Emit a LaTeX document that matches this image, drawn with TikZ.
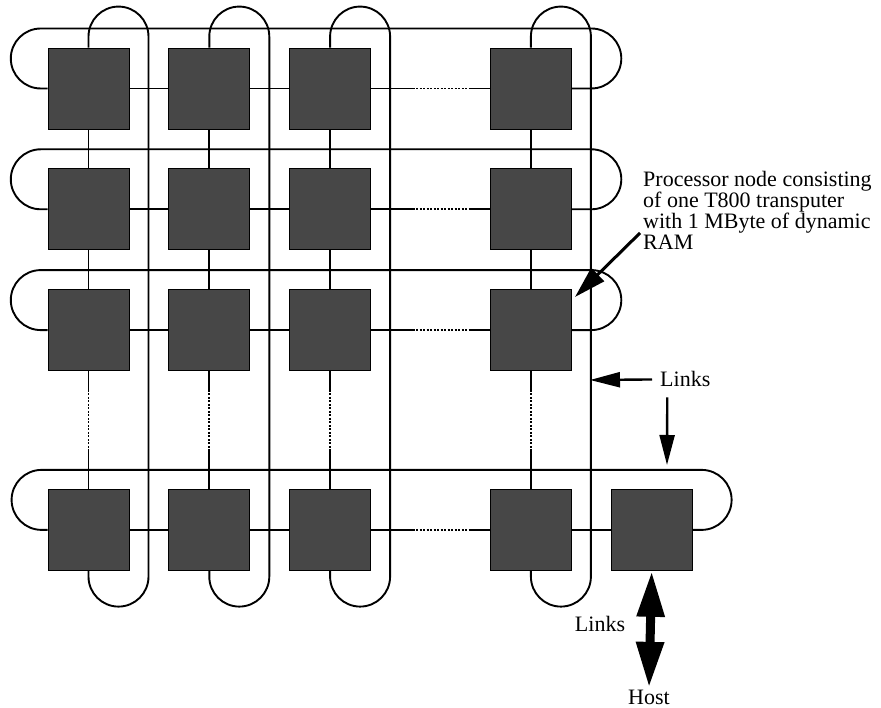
\documentclass[tikz,border=0pt]{standalone}
\usepackage{fontspec}
\setmainfont{Liberation Serif}
\usetikzlibrary{positioning}
\usetikzlibrary{arrows.meta}
\definecolor{boxgray}{gray}{0.28}

\begin{document}
\begin{tikzpicture}[
        x=1pt, y=1pt,
        node distance=39pt,
        proc/.style={draw, rectangle, fill=boxgray, minimum size=81pt,
                     inner sep=0pt, line width=0.8pt},
        link/.style={line width=1.9pt},
        gap/.style={line width=1.9pt, dash pattern=on 2pt off 1.5pt},
        note/.style={inner sep=0pt, font=\fontsize{22}{21}\selectfont},
        pointer/.style={-{Triangle[length=30pt,width=15pt]}, line width=2.4pt},
        hostlink/.style={{Triangle[length=46pt,width=26pt]}-{Triangle[length=46pt,width=26pt]},
                         line width=9pt}
    ]
        \useasboundingbox (0,0) rectangle (881,708);

        % processor grid
        \node[proc] (p11) at (88.5,619.5) {};
        \node[proc, right=of p11] (p12) {};
        \node[proc, right=of p12] (p13) {};
        \node[proc, right=119pt of p13] (p14) {};
        \node[proc, below=of p11] (p21) {};
        \node[proc, right=of p21] (p22) {};
        \node[proc, right=of p22] (p23) {};
        \node[proc, right=119pt of p23] (p24) {};
        \node[proc, below=of p21] (p31) {};
        \node[proc, right=of p31] (p32) {};
        \node[proc, right=of p32] (p33) {};
        \node[proc, right=119pt of p33] (p34) {};
        \node[proc, below=118pt of p31] (p41) {};
        \node[proc, right=of p41] (p42) {};
        \node[proc, right=of p42] (p43) {};
        \node[proc, right=119pt of p43] (p44) {};
        \node[proc, right=of p44] (p45) {};

        % links inside rows and columns
        \foreach \r in {1,...,4} {
            \draw[link] (p\r1.east) -- (p\r2.west) (p\r2.east) -- (p\r3.west);
            \path (p\r3.east) -- (p\r4.west) coordinate[pos=0.35] (ha) coordinate[pos=0.84] (hb);
            \draw[link] (p\r3.east) -- (ha) (hb) -- (p\r4.west);
            \draw[gap] (ha) -- (hb);
        }
        \foreach \c in {1,...,4} {
            \draw[link] (p1\c.south) -- (p2\c.north) (p2\c.south) -- (p3\c.north);
            \path (p3\c.south) -- (p4\c.north) coordinate[pos=0.16] (va) coordinate[pos=0.66] (vb);
            \draw[link] (p3\c.south) -- (va) (vb) -- (p4\c.north);
            \draw[gap] (va) -- (vb);
        }
        \draw[link] (p44.east) -- (p45.west);

        % wrap-around links
        \foreach \r in {1,2,3}
            \draw[link] (p\r4.east) -- ++(19.5,0) arc[start angle=-90, end angle=90, radius=30]
                -- ++(-550.5,0) arc[start angle=90, end angle=270, radius=30] -- (p\r1.west);
        \draw[link] (p45.east) -- ++(9,0) arc[start angle=-90, end angle=90, radius=30]
            -- ++(-660,0) arc[start angle=90, end angle=270, radius=30] -- (p41.west);
        \foreach \c in {1,...,4}
            \draw[link] (p1\c.north) -- ++(0,11) arc[start angle=180, end angle=0, radius=30]
                -- ++(0,-540) arc[start angle=0, end angle=-180, radius=30] -- (p4\c.south);

        % labels
        \node[note, anchor=north west, align=left] (desc) at (643,537)
            {Processor node consisting\\of one T800 transputer\\with 1 MByte of dynamic\\RAM};
        \node[note, anchor=base west] (links) at (660,321) {Links};
        \node[note, anchor=base] (hostlinks) at (600,76) {Links};
        \node[note, anchor=base] (host) at (649,3) {Host};
        \coordinate (descfoot) at (640,475);
        \coordinate (desctip) at (575,411);
        \coordinate (linkstip) at (590,328);
        \coordinate (ringtip) at (667,243);

        \draw[pointer, line width=3pt, -{Triangle[length=32pt,width=18pt]}] (descfoot) -- (desctip);
        \draw[pointer] ([xshift=-8pt]links.west) -- (linkstip);
        \draw[pointer] ([shift={(-18,-10)}]links.south) -- (ringtip);
        \draw[hostlink] (p45.south) -- ([yshift=2.5pt]host.north);
    \end{tikzpicture}
\end{document}
